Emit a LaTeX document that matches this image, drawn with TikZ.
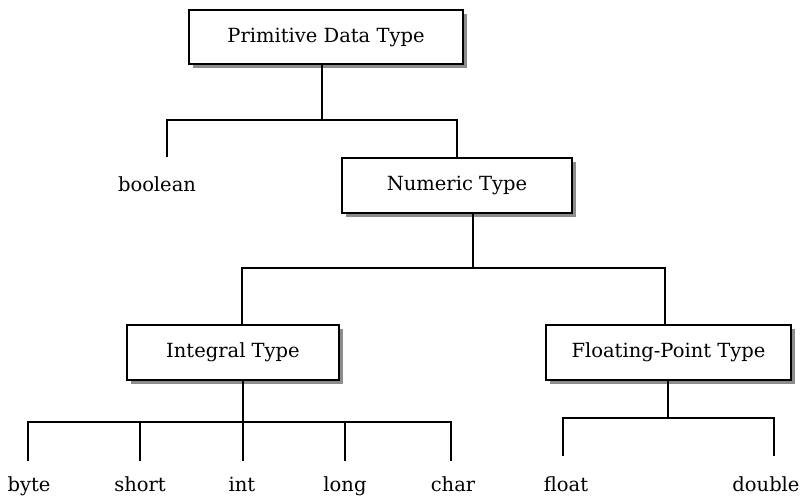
\documentclass[tikz,border=0pt]{standalone}
\usepackage{fontspec}
\setmainfont{DejaVu Serif}
\usetikzlibrary{shadows}
\begin{document}
\begin{tikzpicture}[x=1pt,y=-1pt,
  box/.style={draw,line width=1.8pt,fill=white,inner sep=0pt,
    font=\fontsize{19.5}{22}\selectfont,
    drop shadow={shadow xshift=4pt,shadow yshift=-4pt,fill=black!45,opacity=1}},
  leaf/.style={anchor=base,inner sep=0pt,font=\fontsize{19.5}{22}\selectfont},
  conn/.style={line width=1.8pt}]
\useasboundingbox (0,0) rectangle (801,500);
% boxes
\node[box,minimum width=274pt,minimum height=54pt] (prim) at (326,37) {Primitive Data Type};
\node[box,minimum width=230pt,minimum height=55pt] (num) at (457,185.5) {Numeric Type};
\node[box,minimum width=212pt,minimum height=55pt] (intg) at (233,352.5) {Integral Type};
\node[box,minimum width=245pt,minimum height=55pt] (flt) at (668.5,352.5) {Floating-Point Type};
% leaves
\node[leaf] (bool) at (157,192) {boolean};
\node[leaf] (byte) at (29,491) {byte};
\node[leaf] (short) at (140,491) {short};
\node[leaf] (int) at (242,491) {int};
\node[leaf] (long) at (345,491) {long};
\node[leaf] (char) at (453,491) {char};
\node[leaf] (float) at (566,491) {float};
\node[leaf] (double) at (766,491) {double};
% junction coordinates
\coordinate (pj) at (322,120);
\coordinate (boolend) at (167,157);
\coordinate (nj) at (473,268);
\coordinate (ij) at (243,422);
\coordinate (fj) at (668,418);
\coordinate (byteend) at (28,461);
\coordinate (shortend) at (140,461);
\coordinate (intend) at (243,461);
\coordinate (longend) at (345,461);
\coordinate (charend) at (451,461);
\coordinate (floatend) at (563,456);
\coordinate (doubleend) at (774,456);
% connectors
\draw[conn] (prim.south -| pj) -- (pj);
\draw[conn] (boolend) |- (pj) -| (num.north);
\draw[conn] (num.south -| nj) -- (nj);
\draw[conn] (intg.north -| 242,0) |- (nj) -| (flt.north -| 665,0);
\draw[conn] (intg.south -| ij) -- (ij);
\draw[conn] (byteend) |- (ij) -| (charend);
\draw[conn] (shortend) -- (shortend |- ij);
\draw[conn] (intend) -- (ij);
\draw[conn] (longend) -- (longend |- ij);
\draw[conn] (flt.south -| fj) -- (fj);
\draw[conn] (floatend) |- (fj) -| (doubleend);
\end{tikzpicture}
\end{document}
